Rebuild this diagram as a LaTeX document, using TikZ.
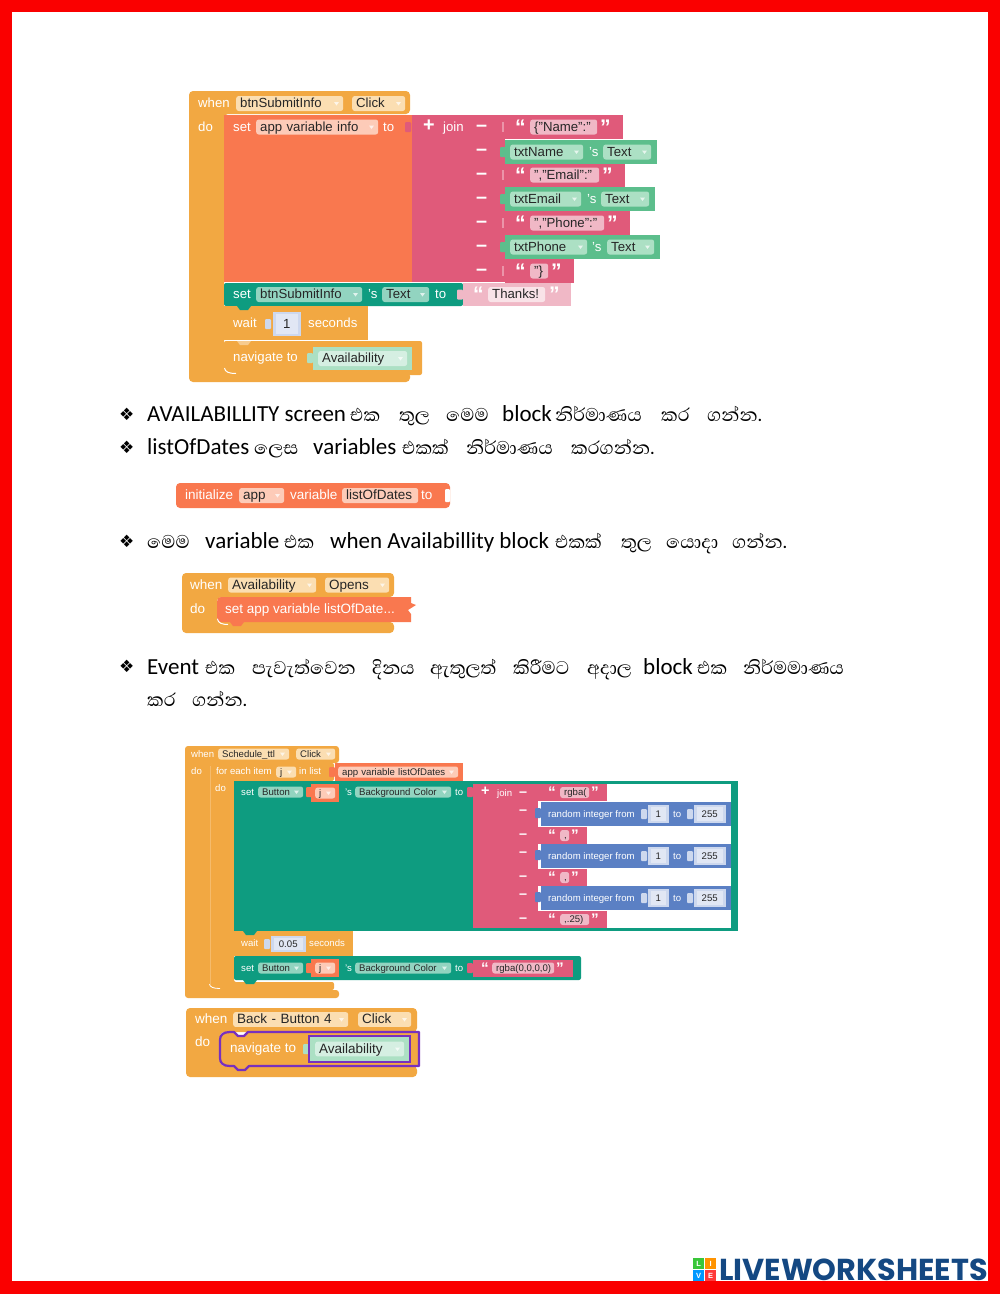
\documentclass[tikz,border=0pt]{standalone}
\usepackage{fontspec}
\usepackage{xcolor}
\setmainfont{Carlito}
\setsansfont{Liberation Sans}
\newfontfamily\sinfont[Script=Sinhala]{Abhaya Libre}
\newfontfamily\symfont{DejaVu Sans}
\newfontfamily\logofont{Poppins}
\definecolor{ctrlorange}{RGB}{242,168,66}
\definecolor{varorange}{RGB}{249,120,79}
\definecolor{textpink}{RGB}{224,90,122}
\definecolor{propgreen}{RGB}{92,190,140}
\definecolor{setteal}{RGB}{14,156,128}
\definecolor{mathblue}{RGB}{91,128,196}
\definecolor{pagered}{RGB}{250,0,0}
\definecolor{logoblue}{RGB}{20,72,130}
\definecolor{fldorange}{RGB}{251,222,178}
\definecolor{fldvar}{RGB}{253,203,184}
\definecolor{fldpink}{RGB}{240,184,198}
\definecolor{fldgreen}{RGB}{172,224,196}
\definecolor{fldteal}{RGB}{146,212,192}
\definecolor{fldnum}{RGB}{205,216,238}
\definecolor{fldnumin}{RGB}{225,231,244}
\definecolor{fldpale}{RGB}{213,239,226}
\definecolor{pickpurple}{RGB}{120,48,190}
\def\blkfont{\sffamily\fontsize{13.2}{13.2}\selectfont}
\def\fldh{15pt}
\def\lblstrut{\rule[-.22em]{0pt}{1.1em}}
\tikzset{
  wlbl/.style={anchor=west,inner sep=0pt,text=white,font=\blkfont},
  fldbox/.style={anchor=west,inner ysep=0pt,inner xsep=4pt,rounded corners=2.5pt,text=black!85,
    align=left,minimum height=\fldh,font=\blkfont},
  txtline/.style={anchor=base west,inner sep=0pt,text=black},
  numbox/.style={fldbox,align=center,fill=fldnumin,draw=fldnum,line width=2.5pt,rounded corners=0pt,inner xsep=0pt}
}
% white label on a block
\newcommand{\wtxt}[4]{\node[wlbl] (#1) at (#2,#3) {\lblstrut#4};}
% field: name, x0, x1, yc, fill, text
\newcommand{\fld}[6]{\node[fldbox,fill=#5,text width={(#3-#2-8)*1pt}] (#1) at (#2,#4) {\mbox{\lblstrut#6}};}
% field with its dropdown mark
\newcommand{\dfld}[6]{\fld{#1}{#2}{#3}{#4}{#5}{#6}
  \fill[white,opacity=.7] ({#3-9},{#4-1.5}) -- ({#3-4},{#4-1.5}) -- ({#3-6.5},{#4+2}) -- cycle;}
% socket tab, statement bump
\newcommand{\tabl}[3]{\fill[#3,rounded corners=1pt] ({#1-5},{#2-5}) rectangle ({#1+1},{#2+5});}
\newcommand{\bmp}[3]{\fill[#3] ({#1-7},#2) -- ({#1-4},{#2+4}) -- ({#1+4},{#2+4}) -- ({#1+7},#2) -- cycle;}
% big quotes and minus of the join blocks
\newcommand{\ql}{\raisebox{-.2em}{\scalebox{1.6}{\textbf{“}}}}
\newcommand{\qr}{\raisebox{-.2em}{\scalebox{1.6}{\textbf{”}}}}
\newcommand{\mn}{\scalebox{1.5}{\textbf{--}}}
\newcommand{\pl}{\scalebox{1.5}{\textbf{+}}}
% running text
\newcommand{\latw}[4]{\node[txtline,font=\fontsize{23}{23}\selectfont] (#1) at (#2,#3) {#4};}
\newcommand{\sinw}[4]{\node[txtline,font=\sinfont\fontsize{23.5}{23.5}\selectfont] (#1) at (#2,#3) {#4};}
\newcommand{\bull}[3]{\node[txtline,font=\symfont\fontsize{17}{17}\selectfont] (#1) at (#2,#3) {❖};}

\begin{document}
\begin{tikzpicture}[x=1pt,y=-1pt]
    \useasboundingbox (0,0) rectangle (1000,1294);
    % Page frame
    \fill[pagered] (0,0) rectangle (1000,1294);
    \fill[white] (12,12) rectangle (988,1281);

    % First picture: btnSubmitInfo click
    \fill[ctrlorange,rounded corners=4pt] (189,91) -- (410,91) -- (410,114) -- (224,114) -- (224,372) -- (410,372) -- (410,382) -- (189,382) -- cycle;
    \wtxt{whenA}{198}{103}{when}
    \dfld{btnA}{236}{343}{103.5}{fldorange}{btnSubmitInfo}
    \dfld{clickA}{352}{405}{103.5}{fldorange}{Click}
    \wtxt{doA}{198}{127}{do}
    \fill[varorange] (224,115) rectangle (412,282);
    \wtxt{setA}{233}{127}{set}
    \dfld{infoA}{256}{378}{127}{fldvar}{app variable info}
    \wtxt{toA}{383}{127}{to}
    \tabl{410}{127}{textpink}
    \fill[textpink] (412,115) rectangle (505,282);
    \wtxt{plusA}{423}{127}{\pl}
    \wtxt{joinA}{443}{127}{join}
    \foreach \nm/\yc in {a/127,b/151,c/175,d/199,e/223,f/247,g/271}{
      \wtxt{minus\nm}{476}{\yc}{\mn}
    }
    % string rows of the join
    \foreach \nm/\yt/\xf/\xr/\txt in {a/115/597/623/{\{"Name":"},c/163/599/625/{","Email":"},e/211/604/630/{","Phone":"},g/259/548/574/{"\}}}{
      \fill[textpink] (505,\yt) rectangle (\xr,\yt+24);
      \wtxt{qla\nm}{515}{\yt+12}{\ql}
      \fld{str\nm}{530}{\xf}{\yt+12}{fldpink}{\txt}
      \wtxt{qra\nm}{\xf+3}{\yt+12}{\qr}
      \fill[white!35!textpink] (502,\yt+7) rectangle (504,\yt+17);
    }
    % property rows of the join
    \foreach \nm/\yt/\xa/\xs/\xb/\xr/\txt in {b/140/583/589/603/657/txtName,d/187/581/587/601/655/txtEmail,f/235/587/592/607/660/txtPhone}{
      \fill[propgreen] (505,\yt) rectangle (\xr,\yt+24);
      \tabl{505}{\yt+12}{propgreen}
      \dfld{prop\nm}{510}{\xa}{\yt+12}{fldgreen}{\txt}
      \wtxt{poss\nm}{\xs}{\yt+12}{'s}
      \dfld{text\nm}{\xb}{\xr-6}{\yt+12}{fldgreen}{Text}
    }
    \fill[setteal,rounded corners=2pt] (224,283) rectangle (463,306);
    \wtxt{setB}{233}{294.5}{set}
    \dfld{btnB}{256}{362}{294.5}{fldteal}{btnSubmitInfo}
    \wtxt{possB}{368}{294.5}{'s}
    \dfld{textB}{382}{429}{294.5}{fldteal}{Text}
    \wtxt{toB}{435}{294.5}{to}
    \tabl{462}{294.5}{fldpink}
    \fill[fldpink] (463,283) rectangle (571,306);
    \wtxt{qlB}{473}{294.5}{\ql}
    \fld{thanksB}{488}{545}{294.5}{white!60!fldpink}{Thanks!}
    \wtxt{qrB}{549}{294.5}{\qr}
    \fill[ctrlorange] (224,306) rectangle (368,340);
    \bmp{244}{306}{setteal}
    \wtxt{waitA}{233}{323}{wait}
    \tabl{270}{324}{fldnum}
    \node[numbox,minimum width=25pt,minimum height=22pt] (numA) at (273,324) {\lblstrut1};
    \wtxt{secA}{308}{323}{seconds}
    \fill[ctrlorange,rounded corners=2pt] (224,341) rectangle (422,375);
    \bmp{244}{341}{white!40!ctrlorange}
    \wtxt{navA}{233}{357}{navigate to}
    \tabl{312}{358}{fldgreen}
    \fill[fldgreen] (313,347) rectangle (412,370);
    \dfld{availA}{318}{407}{358.5}{fldpale}{Availability}
    \bmp{244}{375}{ctrlorange}
    \draw[white,line width=1pt] (224.5,368) .. controls (225,372) and (229,373.5) .. (236,373.5);

    % Text lines
    \bull{bulA}{119}{420}
    \latw{lnA}{147}{421}{AVAILABILLITY screen}
    \sinw{lnAb}{350}{421}{එක}
    \sinw{lnAc}{399}{421}{තුල}
    \sinw{lnAd}{446}{421}{මෙම}
    \latw{lnAe}{502}{421}{block}
    \sinw{lnAf}{555}{421}{නිර්මාණය}
    \sinw{lnAg}{661}{421}{කර}
    \sinw{lnAh}{707}{421}{ගන්න.}
    \bull{bulB}{119}{453}
    \latw{lnB}{147}{454}{listOfDates}
    \sinw{lnBb}{254}{454}{ලෙස}
    \latw{lnBc}{313}{454}{variables}
    \sinw{lnBd}{402}{454}{එකක්}
    \sinw{lnBe}{466}{454}{නිර්මාණය}
    \sinw{lnBf}{571}{454}{කරගන්න.}

    % initialize block
    \def\blkfont{\sffamily\fontsize{13.5}{13.5}\selectfont}
    \fill[varorange,rounded corners=4pt] (176,483) -- (450,483) -- (450,508) -- (176,508) -- cycle;
    \wtxt{initC}{185}{495}{initialize}
    \dfld{appC}{239}{284}{495.5}{fldvar}{app}
    \wtxt{varC}{290}{495}{variable}
    \fld{listC}{342}{418}{495.5}{fldvar}{listOfDates}
    \wtxt{toC}{421}{495}{to}
    \fill[white,rounded corners=1pt] (445,489) rectangle (450,502);

    \bull{bulC}{119}{547}
    \sinw{lnCa}{147}{548}{මෙම}
    \latw{lnCb}{205}{548}{variable}
    \sinw{lnCc}{284}{548}{එක}
    \latw{lnCd}{330}{548}{when Availabillity block}
    \sinw{lnCe}{555}{548}{එකක්}
    \sinw{lnCf}{621}{548}{තුල}
    \sinw{lnCg}{666}{548}{යොදා}
    \sinw{lnCh}{732}{548}{ගන්න.}

    % when Availability opens
    \fill[ctrlorange,rounded corners=4pt] (182,573) -- (394,573) -- (394,597) -- (217,597) -- (217,622) -- (394,622) -- (394,633) -- (182,633) -- cycle;
    \wtxt{whenD}{190}{585}{when}
    \dfld{availD}{228}{316}{585}{fldorange}{Availability}
    \dfld{opensD}{325}{389}{585}{fldorange}{Opens}
    \wtxt{doD}{190}{609}{do}
    \fill[varorange] (222,597) -- (411,597) -- (411,603) -- (416,605) -- (408,610) -- (411,614) -- (411,622) -- (222,622) .. controls (218,622) and (217,620) .. (217,617) -- (217,602) .. controls (217,599) and (218,597) .. (222,597) -- cycle;
    \bmp{237}{622}{varorange}
    \draw[white,line width=1pt] (217.5,619) .. controls (218,623) and (222,624.5) .. (228,624.5);
    \wtxt{setD}{225}{609}{set app variable listOfDate...}

    \bull{bulE}{119}{672}
    \latw{lnEa}{147}{674}{Event}
    \sinw{lnEb}{205}{674}{එක}
    \sinw{lnEc}{252}{674}{පැවැත්වෙන}
    \sinw{lnEd}{372}{674}{දිනය}
    \sinw{lnEe}{430}{674}{ඇතුලත්}
    \sinw{lnEf}{513}{674}{කිරීමට}
    \sinw{lnEg}{587}{674}{අදාල}
    \latw{lnEh}{643}{674}{block}
    \sinw{lnEi}{697}{674}{එක}
    \sinw{lnEj}{743}{674}{නිර්මමාණය}
    \sinw{lnFa}{147}{706}{කර}
    \sinw{lnFb}{192}{706}{ගන්න.}

    % Schedule_ttl click
    \def\blkfont{\sffamily\fontsize{9.6}{9.6}\selectfont}
    \def\fldh{11pt}
    \fill[ctrlorange,rounded corners=3pt] (185,746) -- (339,746) -- (339,763) -- (210,763) -- (210,990) -- (339,990) -- (339,998) -- (185,998) -- cycle;
    \wtxt{whenF}{191}{754}{when}
    \dfld{schedF}{218}{289}{754}{fldorange}{Schedule\_ttl}
    \dfld{clickF}{296}{335}{754}{fldorange}{Click}
    \wtxt{doF}{191}{771}{do}
    \fill[ctrlorange,rounded corners=2pt] (210,763) -- (334,763) -- (334,781) -- (234,781) -- (234,982) -- (334,982) -- (334,990) -- (210,990) -- cycle;
    \draw[white!22!ctrlorange,line width=.6pt] (210,766) -- (210,984);
    \draw[white,line width=.8pt] (209.5,984) .. controls (210,987) and (213,988.5) .. (220,988.5);
    \bmp{224}{990}{ctrlorange}
    \wtxt{forF}{216}{771}{for each item}
    \dfld{itemF}{276}{296}{772}{fldorange}{j}
    \wtxt{inF}{299}{771}{in list}
    \tabl{334}{772}{varorange}
    \fill[varorange] (335,763) rectangle (463,781);
    \dfld{listF}{338}{458}{772}{fldvar}{app variable listOfDates}
    \wtxt{doG}{215}{788}{do}
    % big set block with its join
    \fill[setteal] (234,781) rectangle (738,931);
    \fill[white] (538,784) rectangle (731,928);
    \fill[textpink] (473,784) rectangle (538,928);
    \wtxt{setG}{241}{792}{set}
    \dfld{btnG}{258}{303}{792}{fldteal}{Button}
    \fill[varorange] (311,784) rectangle (339,802);
    \tabl{311}{792}{varorange}
    \dfld{jG}{315}{335}{793}{fldvar}{j}
    \wtxt{possG}{345}{792}{'s}
    \dfld{bgG}{355}{451}{792}{fldteal}{Background Color}
    \wtxt{toG}{455}{792}{to}
    \tabl{472}{792}{textpink}
    \wtxt{plusG}{481}{792}{\pl}
    \wtxt{joinG}{497}{793}{join}
    \foreach \nm/\yt/\xf/\xr/\txt in {a/784/589/607/{rgba(},c/827/569/587/{,},e/869/569/587/{,},g/911/589/607/{,.25)}}{
      \fill[textpink] (538,\yt) rectangle (\xr,\yt+17);
      \wtxt{qlg\nm}{548}{\yt+8.5}{\ql}
      \fld{strg\nm}{560}{\xf}{\yt+8.5}{fldpink}{\txt}
      \wtxt{qrg\nm}{\xf+2}{\yt+8.5}{\qr}
    }
    \foreach \nm/\yc in {a/793,c/835,e/877,g/919}{
      \wtxt{mng\nm}{519}{\yc}{\mn}
    }
    \foreach \nm/\yt in {b/802,d/844,f/886}{
      \fill[mathblue] (541,\yt) rectangle (731,\yt+24);
      \tabl{540}{\yt+11}{mathblue}
      \wtxt{mng\nm}{519}{\yt+9}{\mn}
      \wtxt{rnd\nm}{548}{\yt+12}{random integer from}
      \tabl{646}{\yt+12}{fldnum}
      \node[numbox,minimum width=18pt,minimum height=16pt] (one\nm) at (648,\yt+12) {\lblstrut1};
      \wtxt{to\nm}{673}{\yt+12}{to}
      \tabl{692}{\yt+12}{fldnum}
      \node[numbox,minimum width=29pt,minimum height=16pt] (max\nm) at (694,\yt+12) {\lblstrut255};
    }
    \fill[ctrlorange] (234,931) rectangle (353,956);
    \bmp{250}{931}{setteal}
    \wtxt{waitG}{241}{943}{wait}
    \tabl{269}{944}{fldnum}
    \node[numbox,minimum width=32pt,minimum height=14pt] (numG) at (271,944) {\lblstrut0.05};
    \wtxt{secG}{309}{943}{seconds}
    % second set block
    \fill[setteal,rounded corners=2pt] (234,956) rectangle (581,980);
    \bmp{250}{980}{setteal}
    \wtxt{setH}{241}{968}{set}
    \dfld{btnH}{258}{303}{968}{fldteal}{Button}
    \fill[varorange] (311,959) rectangle (339,977);
    \tabl{311}{968}{varorange}
    \dfld{jH}{315}{335}{968}{fldvar}{j}
    \wtxt{possH}{345}{968}{'s}
    \dfld{bgH}{355}{451}{968}{fldteal}{Background Color}
    \wtxt{toH}{455}{968}{to}
    \tabl{472}{968}{textpink}
    \fill[textpink] (473,960) rectangle (573,977);
    \wtxt{qlH}{481}{968}{\ql}
    \fld{rgbaH}{492}{554}{968}{fldpink}{rgba(0,0,0,0)}
    \wtxt{qrH}{556}{968}{\qr}

    % Back button click
    \def\blkfont{\sffamily\fontsize{13.5}{13.5}\selectfont}
    \def\fldh{14pt}
    \fill[ctrlorange,rounded corners=4pt] (186,1008) -- (417,1008) -- (417,1032) -- (220,1032) -- (220,1066) -- (417,1066) -- (417,1077) -- (186,1077) -- cycle;
    \wtxt{whenK}{195}{1019}{when}
    \dfld{backK}{233}{348}{1019.5}{fldorange}{Back - Button 4}
    \dfld{clickK}{358}{411}{1019.5}{fldorange}{Click}
    \wtxt{doK}{195}{1042}{do}
    \filldraw[fill=ctrlorange,draw=pickpurple,line width=2.2pt,line join=round] (230,1032) -- (234,1032) -- (238,1036) -- (244,1036) -- (248,1032) -- (419,1032) -- (419,1066) -- (249,1066) -- (245,1070) -- (238,1070) -- (234,1066) -- (230,1066) .. controls (223,1066) and (220,1063) .. (220,1058) -- (220,1040) .. controls (220,1035) and (223,1032) .. (230,1032) -- cycle;
    \wtxt{navK}{230}{1048}{navigate to}
    \tabl{308}{1049}{fldgreen}
    \filldraw[fill=fldgreen,draw=pickpurple,line width=1.8pt] (309,1036) rectangle (410,1062);
    \dfld{availK}{315}{404}{1049}{fldpale}{Availability}

    % Logo
    \foreach \nm/\xa/\ya/\col/\ch in {l/693/1258/{green!55!gray}/L,i/705/1258/{orange!85!yellow}/I,v/693/1270/{blue!40!cyan}/V,e/705/1270/{red!70!pink}/E}{
      \node[fill=\col,text=white,inner sep=0pt,minimum size=11pt,anchor=north west,font=\sffamily\bfseries\fontsize{7.5}{7.5}\selectfont] (logo\nm) at (\xa,\ya) {\ch};
    }
    \node[anchor=base west,inner sep=0pt,text=logoblue,font=\logofont\bfseries\fontsize{30.3}{30.3}\selectfont] (logoname) at (719,1280) {LIVEWORKSHEETS};
\end{tikzpicture}
\end{document}
